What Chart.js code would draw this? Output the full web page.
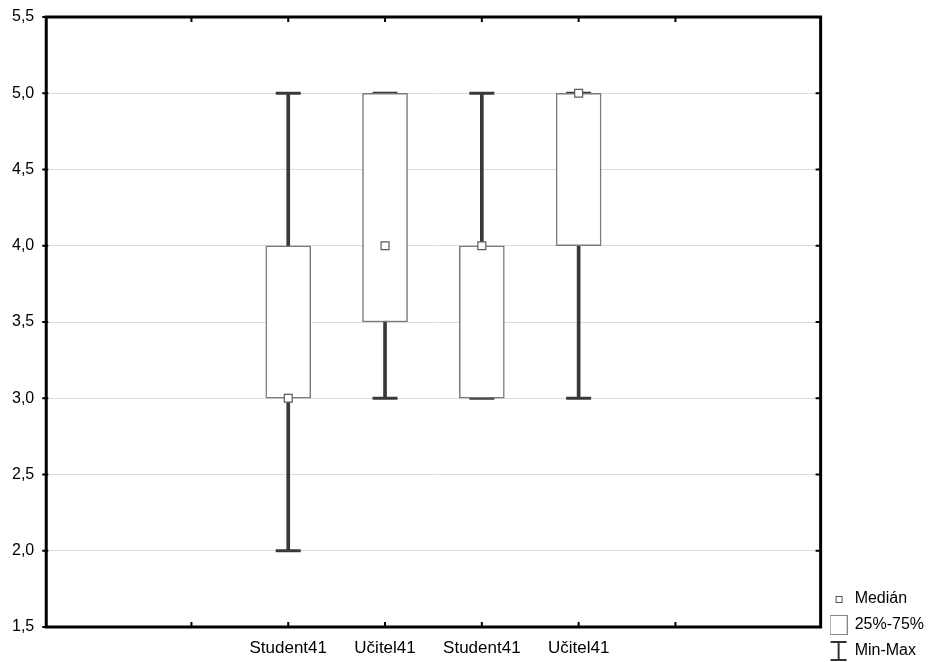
<!DOCTYPE html>
<html>
<head>
<meta charset="utf-8">
<script src="https://cdn.jsdelivr.net/npm/chart.js@4.4.1/dist/chart.umd.min.js"></script>
<style>
  html, body { margin: 0; padding: 0; background: #fff; }
  #wrap { width: 943px; height: 662px; position: relative; }
</style>
</head>
<body>
<div id="wrap"><canvas id="boxChart"></canvas></div>
<script>
// Kategorie a jejich pozice na ose x
const categories = ["Student41", "Učitel41", "Student41", "Učitel41"];
const positions = [2, 3, 4, 5];

// Hodnoty krabicových grafů
const minValues = [2, 3, 3, 3];
const q1Values = [3, 3.5, 3, 4];
const medianValues = [3, 4, 4, 5];
const q3Values = [4, 5, 4, 5];
const maxValues = [5, 5, 5, 5];

// Popisky osy y
const yTicks = [1.5, 2, 2.5, 3, 3.5, 4, 4.5, 5, 5.5];
const legendLabels = ["Medián", "25%-75%", "Min-Max"];

const WHISKER = "#383838";
const BOXLINE = "#7a7a7a";

// Ikony pro legendu
function makeIcon(w, h, draw) {
  const c = document.createElement("canvas");
  c.width = w;
  c.height = h;
  draw(c.getContext("2d"));
  return c;
}
const iconMedian = makeIcon(10, 10, (g) => {
  g.fillStyle = "#fff";
  g.fillRect(2, 2, 6, 6);
  g.strokeStyle = "#555";
  g.lineWidth = 1;
  g.strokeRect(2.5, 2.5, 6, 6);
});
const iconBox = makeIcon(18, 20, (g) => {
  g.strokeStyle = "#888";
  g.lineWidth = 1;
  g.strokeRect(0.5, 0.5, 17, 19);
});
const iconWhisker = makeIcon(18, 20, (g) => {
  g.strokeStyle = "#333";
  g.lineWidth = 2;
  g.beginPath();
  g.moveTo(1, 1); g.lineTo(17, 1);
  g.moveTo(9, 1); g.lineTo(9, 19);
  g.moveTo(1, 19); g.lineTo(17, 19);
  g.stroke();
});

// Rámeček kolem grafu a tiky směřující dovnitř
const framePlugin = {
  id: "frame",
  afterDraw(chart) {
    const { ctx, chartArea: a, scales } = chart;
    ctx.save();
    ctx.strokeStyle = "#000";
    ctx.lineWidth = 2;
    [1, 2, 3, 4, 5, 6].forEach((v) => {
      const px = scales.x.getPixelForValue(v);
      ctx.beginPath();
      ctx.moveTo(px, a.bottom); ctx.lineTo(px, a.bottom - 5);
      ctx.moveTo(px, a.top); ctx.lineTo(px, a.top + 5);
      ctx.stroke();
    });
    yTicks.forEach((v) => {
      const py = scales.y.getPixelForValue(v);
      ctx.beginPath();
      ctx.moveTo(a.left - 4, py); ctx.lineTo(a.left + 2, py);
      ctx.moveTo(a.right, py); ctx.lineTo(a.right - 5, py);
      ctx.stroke();
    });
    ctx.lineWidth = 3;
    ctx.strokeRect(a.left, a.top, a.right - a.left, a.bottom - a.top);
    ctx.restore();
  },
};

const chartData = {
  datasets: [
    {
      label: "Min-Max",
      type: "bar",
      data: positions.map((x, i) => ({ x: x, y: [minValues[i], maxValues[i]] })),
      backgroundColor: WHISKER,
      borderWidth: 0,
      barThickness: 3,
      grouped: false,
      order: 3,
    },
    {
      label: "caps",
      type: "scatter",
      data: positions.flatMap((x, i) => [
        { x: x, y: minValues[i] },
        { x: x, y: maxValues[i] },
      ]),
      pointStyle: "line",
      radius: 12.5,
      borderColor: WHISKER,
      borderWidth: 3,
      order: 2,
    },
    {
      label: "25%-75%",
      type: "bar",
      data: positions.map((x, i) => ({ x: x, y: [q1Values[i], q3Values[i]] })),
      backgroundColor: "#fff",
      borderColor: BOXLINE,
      borderWidth: 1.5,
      borderSkipped: false,
      barThickness: 45,
      grouped: false,
      order: 1,
    },
    {
      label: "Medián",
      type: "scatter",
      data: positions.map((x, i) => ({ x: x, y: medianValues[i] })),
      pointStyle: "rect",
      radius: 5.6,
      backgroundColor: "#fff",
      borderColor: "#5a5a5a",
      borderWidth: 1.2,
      order: 0,
    },
  ],
};

const chartConfig = {
  type: "bar",
  data: chartData,
  options: {
    responsive: true,
    maintainAspectRatio: false,
    animation: false,
    layout: { padding: { top: 0, right: 9, bottom: -7, left: 0 } },
    scales: {
      x: {
        type: "linear",
        min: 0,
        max: 7,
        grid: { display: false, drawTicks: false },
        border: { display: false },
        afterFit: (axis) => {
          axis.height = 42;
        },
        ticks: {
          stepSize: 1,
          autoSkip: false,
          maxRotation: 0,
          padding: 11,
          color: "#000",
          font: { family: "Liberation Sans", size: 17 },
          callback: (v) => {
            const i = positions.indexOf(v);
            return i >= 0 ? categories[i] : "";
          },
        },
      },
      y: {
        min: 1.5,
        max: 5.5,
        grid: { color: "#dcdcdc", lineWidth: 1, drawTicks: false },
        border: { display: false },
        afterBuildTicks: (axis) => {
          axis.ticks = yTicks.map((v) => ({ value: v }));
        },
        afterFit: (axis) => {
          axis.paddingTop = 17;
        },
        ticks: {
          padding: 12,
          color: "#000",
          font: { family: "Liberation Sans", size: 16 },
          callback: (v) => v.toFixed(1).replace(".", ","),
        },
      },
    },
    plugins: {
      tooltip: { enabled: false },
      legend: {
        position: "right",
        align: "end",
        onClick: null,
        labels: {
          usePointStyle: true,
          padding: 10,
          color: "#000",
          font: { family: "Liberation Sans", size: 16 },
          generateLabels: () => [
            { text: legendLabels[0], pointStyle: iconMedian, hidden: false, lineWidth: 0, fontColor: "#000" },
            { text: legendLabels[1], pointStyle: iconBox, hidden: false, lineWidth: 0, fontColor: "#000" },
            { text: legendLabels[2], pointStyle: iconWhisker, hidden: false, lineWidth: 0, fontColor: "#000" },
          ],
        },
      },
    },
  },
  plugins: [framePlugin],
};

const boxChartElement = document.getElementById("boxChart");
if (boxChartElement) {
  new Chart(boxChartElement, chartConfig);
}
</script>
</body>
</html>
